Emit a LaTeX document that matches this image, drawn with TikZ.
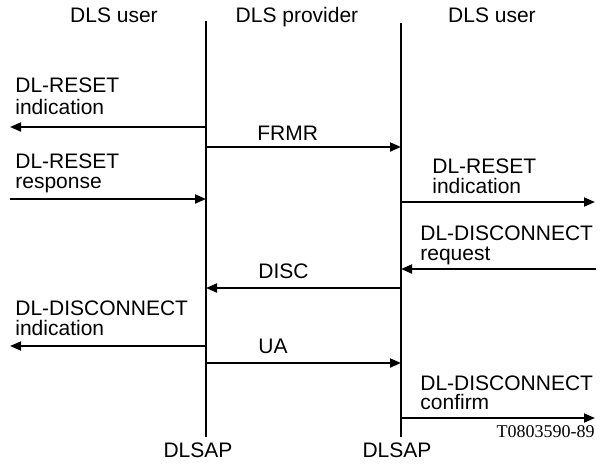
\documentclass[tikz,border=0pt]{standalone}
\usepackage{fontspec}
\setmainfont{Liberation Sans}
\newfontfamily\tagfont{Liberation Serif}
\usetikzlibrary{arrows.meta}
\tikzset{
  lbl/.style={anchor=base west, inner sep=0pt, font=\fontsize{10.5}{12}\selectfont},
  head/.style={anchor=base, inner sep=0pt, font=\fontsize{10.5}{12}\selectfont},
  life/.style={line width=1.2pt},
  msg/.style={line width=0.9pt, -{Triangle[length=5.5pt,width=4.5pt]}},
}
\begin{document}
\begin{tikzpicture}[x=0.5pt,y=-0.5pt]
\useasboundingbox (0,0) rectangle (600,467);
%
\coordinate (ltop) at (206,21);
\coordinate (lbot) at (206,437);
\coordinate (rtop) at (401,23);
\coordinate (rbot) at (401,437);
\draw [life] (ltop) -- (lbot);
\draw [life] (rtop) -- (rbot);
%
\node [head] (userl) at (114,22) {DLS user};
\node [head] (prov)  at (297,22) {DLS provider};
\node [head] (userr) at (492,22) {DLS user};
\node [head] (sapl)  at (198,457) {DLSAP};
\node [head] (sapr)  at (397,457) {DLSAP};
%
\coordinate (l1) at (206,127); \coordinate (o1) at (10,127);
\draw [msg] (l1) -- (o1);
\node [lbl] (ind1a) at (15,92)  {DL-RESET};
\node [lbl] (ind1b) at (15,114) {indication};
%
\coordinate (l2) at (206,147); \coordinate (r2) at (401,147);
\draw [msg] (l2) -- (r2);
\node [lbl] (frmr) at (257,140) {FRMR};
%
\coordinate (o3) at (10,199); \coordinate (l3) at (206,199);
\draw [msg] (o3) -- (l3);
\node [lbl] (rsp1a) at (15,168) {DL-RESET};
\node [lbl] (rsp1b) at (15,188) {response};
%
\coordinate (r4) at (401,202); \coordinate (o4) at (595,202);
\draw [msg] (r4) -- (o4);
\node [lbl] (ind2a) at (432,173) {DL-RESET};
\node [lbl] (ind2b) at (432,193) {indication};
%
\coordinate (o5) at (596,269); \coordinate (r5) at (401,269);
\draw [msg] (o5) -- (r5);
\node [lbl] (req1a) at (420,240) {DL-DISCONNECT};
\node [lbl] (req1b) at (420,260) {request};
%
\coordinate (r6) at (401,288); \coordinate (l6) at (206,288);
\draw [msg] (r6) -- (l6);
\node [lbl] (disc) at (258,278) {DISC};
%
\coordinate (l7) at (206,346); \coordinate (o7) at (10,346);
\draw [msg] (l7) -- (o7);
\node [lbl] (ind3a) at (15,315) {DL-DISCONNECT};
\node [lbl] (ind3b) at (15,335) {indication};
%
\coordinate (l8) at (206,363); \coordinate (r8) at (401,363);
\draw [msg] (l8) -- (r8);
\node [lbl] (ua) at (258,353) {UA};
%
\coordinate (r9) at (401,418); \coordinate (o9) at (595,418);
\draw [msg] (r9) -- (o9);
\node [lbl] (cnf1a) at (420,390) {DL-DISCONNECT};
\node [lbl] (cnf1b) at (420,409) {confirm};
%
\node [anchor=base east, inner sep=0pt, font=\tagfont\fontsize{9}{10}\selectfont]
  (tag) at (595,437) {T0803590-89};
\end{tikzpicture}
\end{document}
